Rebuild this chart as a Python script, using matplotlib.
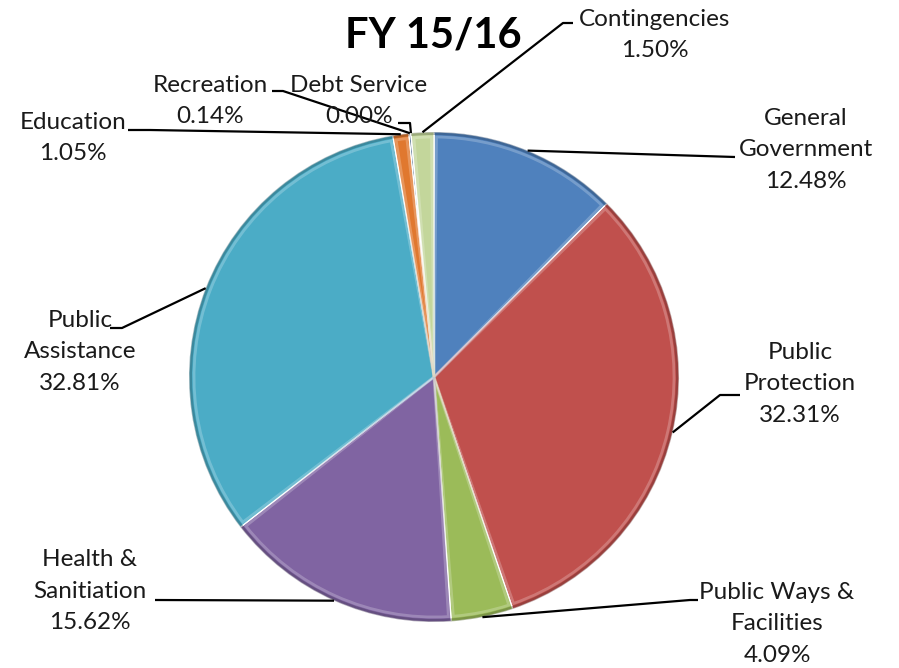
import numpy as np
import matplotlib
matplotlib.use("Agg")
import matplotlib.pyplot as plt
from matplotlib.patches import Wedge
from matplotlib.colors import to_rgb

plt.rcParams['font.family'] = ['Lato', 'DejaVu Sans']

# budget shares, FY 15/16, clockwise from 12 o'clock
categories = ['General\nGovernment', 'Public\nProtection', 'Public Ways &\nFacilities',
              'Health &\nSanitiation', 'Public\nAssistance', 'Education',
              'Recreation', 'Debt Service', 'Contingencies']
shares = [12.48, 32.31, 4.09, 15.62, 32.81, 1.05, 0.14, 0.00, 1.50]
colors = ['#4F81BD', '#C0504D', '#9BBB59', '#8064A2', '#4BACC6',
          '#E0782F', '#2C4D75', '#FFFFFF', '#C3D69B']

W, H = 899, 668
cx, cy, R = 434, H - 377, 245

# label text centre (px, y down) and the elbow of each leader line
label_pos = [(806, 150), (800, 384), (777, 624), (90, 591), (80, 352),
             (73, 138), (210, 101), (359, 101), (655, 35)]
elbows = [[(735, 157)], [(720, 395), (740, 395)], [(690, 600), (698, 600)],
          [(155, 600)], [(122, 328), (110, 328)], [(150, 130), (128, 130)],
          [(283, 91), (272, 91)], [(410, 123), (398, 123)], [(563, 23), (573, 23)]]

fig = plt.figure(figsize=(W / 100, H / 100), dpi=100)
ax = fig.add_axes([0, 0, 1, 1])

wedges, _ = ax.pie(shares, colors=colors, startangle=90, counterclock=False,
                   radius=R, center=(cx, cy),
                   wedgeprops=dict(edgecolor='white', linewidth=1.0))

# bevel: soft light rim inside each wedge, darker rim along the outside
for w, c in zip(wedges, colors):
    if w.theta2 - w.theta1 < 1:
        continue
    light = tuple(min(1, v * 0.5 + 0.5) for v in to_rgb(c))
    dark = tuple(v * 0.55 for v in to_rgb(c))
    ax.add_patch(Wedge((cx, cy), R - 5, w.theta1 + 0.6, w.theta2 - 0.6,
                       fill=False, edgecolor=light, lw=2.0, alpha=0.45))
    ax.add_patch(Wedge((cx, cy), R, w.theta1, w.theta2, width=3,
                       facecolor=dark, edgecolor='none', alpha=0.45))

cum = np.cumsum([0] + shares[:-1])
for name, val, start, pos, elb in zip(categories, shares, cum, label_pos, elbows):
    ang = np.deg2rad(90 - 360 * (start + val / 2) / 100)
    px, py = cx + R * np.cos(ang), cy + R * np.sin(ang)
    pts = [(px, py)] + [(x, H - y) for x, y in elb]
    ax.plot([p[0] for p in pts], [p[1] for p in pts], color='black', lw=1.6,
            solid_capstyle='butt')
    ax.text(pos[0], H - pos[1], f'{name}\n{val:.2f}%', ha='center', va='center',
            fontsize=17.5, linespacing=1.62, color='#1a1a1a')

ax.text(433, H - 35, 'FY 15/16', ha='center', va='center', fontsize=30,
        fontweight='bold', color='black')

ax.set_xlim(0, W)
ax.set_ylim(0, H)
ax.set_aspect('auto')
ax.axis('off')

fig.savefig('out.png', dpi=100, facecolor='white')
